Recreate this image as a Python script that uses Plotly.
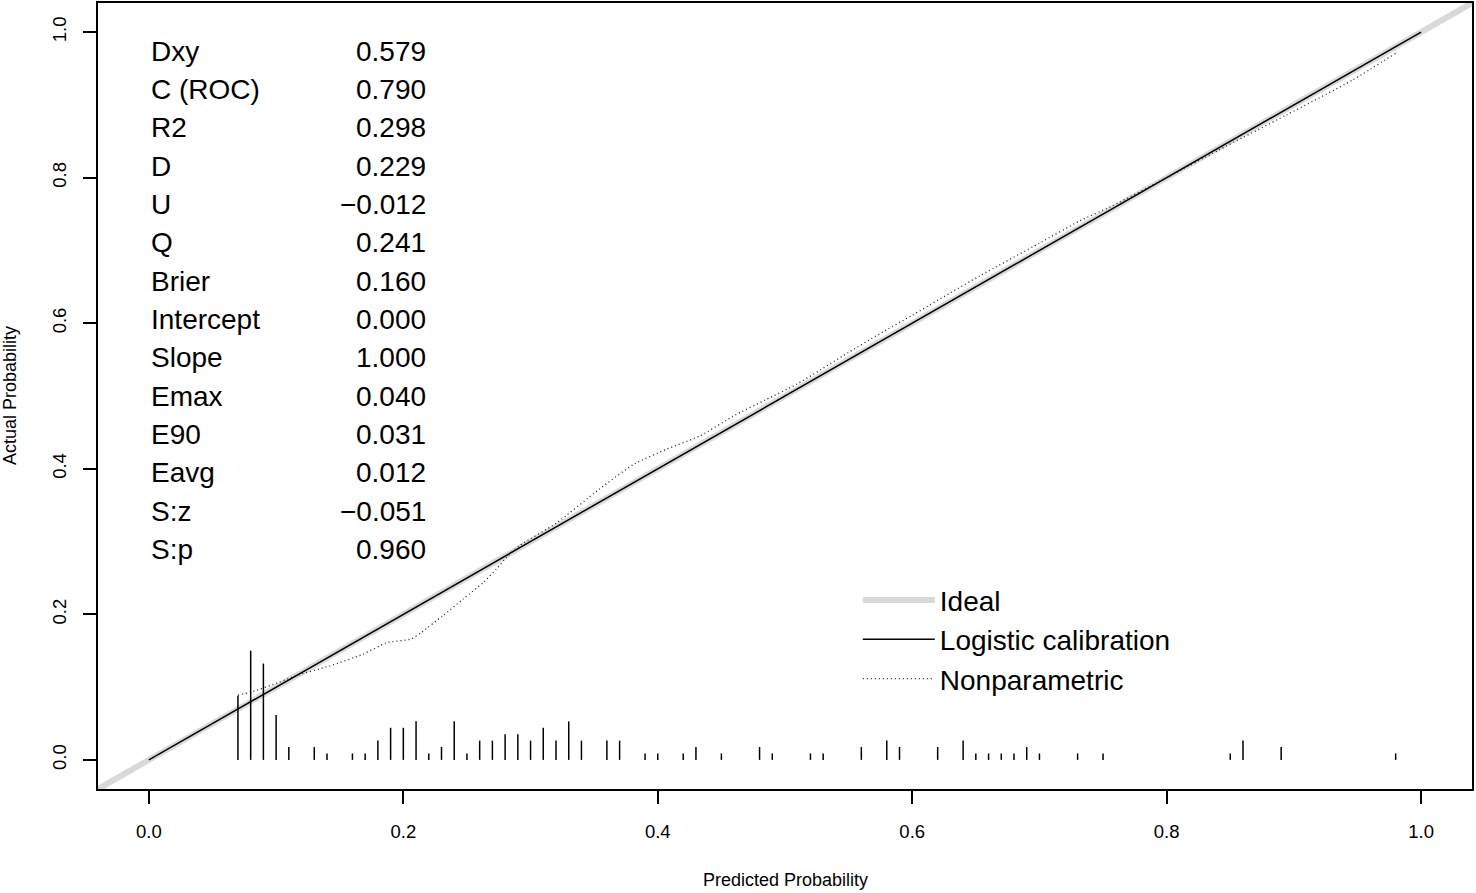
import plotly.graph_objects as go

# summary statistics printed in the top-left corner
stat_names = ['Dxy', 'C (ROC)', 'R2', 'D', 'U', 'Q', 'Brier', 'Intercept',
              'Slope', 'Emax', 'E90', 'Eavg', 'S:z', 'S:p']
stat_values = [0.579, 0.790, 0.298, 0.229, -0.012, 0.241, 0.160, 0.000,
               1.000, 0.040, 0.031, 0.012, -0.051, 0.960]

# ideal and logistic calibration (intercept 0, slope 1)
ideal_x = [-0.05, 1.05]
ideal_y = [-0.05, 1.05]
logistic_x = [0.0, 1.0]
logistic_y = [0.0, 1.0]

# nonparametric (lowess) calibration curve
np_x = [0.07, 0.08, 0.103, 0.116, 0.142, 0.168, 0.187, 0.206, 0.214, 0.231,
        0.247, 0.263, 0.273, 0.281, 0.291, 0.32, 0.354, 0.381, 0.407, 0.433,
        0.459, 0.485, 0.509, 0.55, 0.574, 0.60, 0.653, 0.70, 0.731, 0.757,
        0.80, 0.841, 0.894, 0.946, 0.98]
np_y = [0.089, 0.093, 0.107, 0.116, 0.129, 0.145, 0.161, 0.166, 0.175, 0.198,
        0.221, 0.244, 0.262, 0.278, 0.294, 0.325, 0.372, 0.406, 0.427, 0.445,
        0.472, 0.495, 0.516, 0.56, 0.585, 0.611, 0.665, 0.71, 0.740, 0.761,
        0.80, 0.838, 0.886, 0.934, 0.971]

# distribution of predicted probabilities (spike histogram)
risk_x = [0.07, 0.08, 0.09, 0.10, 0.11, 0.13, 0.14, 0.16, 0.17, 0.18, 0.19,
          0.20, 0.21, 0.22, 0.23, 0.24, 0.25, 0.26, 0.27, 0.28, 0.29, 0.30,
          0.31, 0.32, 0.33, 0.34, 0.36, 0.37, 0.39, 0.40, 0.42, 0.43, 0.45,
          0.48, 0.49, 0.52, 0.53, 0.56, 0.58, 0.59, 0.62, 0.64, 0.65, 0.66,
          0.67, 0.68, 0.69, 0.70, 0.73, 0.75, 0.85, 0.86, 0.89, 0.98]
risk_n = [10, 17, 15, 7, 2, 2, 1, 1, 1, 3, 5,
          5, 6, 1, 2, 6, 1, 3, 3, 4, 4, 3,
          5, 3, 6, 3, 3, 3, 1, 1, 1, 2, 1,
          2, 1, 1, 1, 2, 3, 2, 2, 3, 1, 1,
          1, 1, 2, 1, 1, 1, 1, 3, 2, 1]

tick_vals = [0.0, 0.2, 0.4, 0.6, 0.8, 1.0]
tick_text = ['0.0', '0.2', '0.4', '0.6', '0.8', '1.0']

FONT = 'Liberation Sans, Arial, Helvetica, sans-serif'
spike_frac = 0.15

fig = go.Figure()

fig.add_trace(go.Scatter(x=ideal_x, y=ideal_y, mode='lines', name='Ideal',
                         line=dict(color='#d9d9d9', width=6)))
fig.add_trace(go.Scatter(x=logistic_x, y=logistic_y, mode='lines',
                         name='Logistic calibration',
                         line=dict(color='black', width=1.5)))
fig.add_trace(go.Scatter(x=np_x, y=np_y, mode='lines', name='Nonparametric',
                         line=dict(color='#222222', width=1.3, dash='1px,3px',
                                   shape='spline', smoothing=0.6)))

# spikes: one vertical segment per predicted value
top = max(risk_n)
sx, sy = [], []
for v, n in zip(risk_x, risk_n):
    sx += [v, v, None]
    sy += [0, n / top * spike_frac, None]
fig.add_trace(go.Scatter(x=sx, y=sy, mode='lines', showlegend=False,
                         line=dict(color='black', width=1.5)))

# statistics block
row_top = 0.974
row_step = 0.0527
for i, (name, val) in enumerate(zip(stat_names, stat_values)):
    txt = f'{abs(val):.3f}'
    if val < 0:
        txt = '\u2212' + txt
    y = row_top - i * row_step
    fig.add_annotation(x=0.0, y=y, xref='x', yref='y', text=name,
                       xanchor='left', yanchor='middle', showarrow=False,
                       font=dict(size=28, color='black', family=FONT))
    fig.add_annotation(x=0.219, y=y, xref='x', yref='y', text=txt,
                       xanchor='right', yanchor='middle', showarrow=False,
                       font=dict(size=28, color='black', family=FONT))

# axis titles
fig.add_annotation(x=0.5, y=0, xref='paper', yref='paper', yshift=-91,
                   text='Predicted Probability', showarrow=False,
                   xanchor='center', yanchor='middle',
                   font=dict(size=18, color='black', family=FONT))
fig.add_annotation(x=0, y=0.5, xref='paper', yref='paper', xshift=-88,
                   text='Actual Probability', showarrow=False, textangle=-90,
                   xanchor='center', yanchor='middle',
                   font=dict(size=18, color='black', family=FONT))

axis_common = dict(
    showgrid=False, zeroline=False, showline=True, mirror=True,
    linecolor='black', linewidth=1.5, automargin=False,
    ticks='outside', ticklen=13, tickwidth=1.5, tickcolor='black',
    tickvals=tick_vals, ticktext=tick_text,
    tickfont=dict(size=18.5, color='black', family=FONT),
)

fig.update_layout(
    width=1476, height=893,
    margin=dict(l=98, r=4, t=3, b=104),
    paper_bgcolor='white', plot_bgcolor='white',
    xaxis=dict(range=[-0.04, 1.04], ticklabelstandoff=12, **axis_common),
    yaxis=dict(range=[-0.04, 1.04], tickangle=-90, ticklabelstandoff=10,
               **axis_common),
    legend=dict(x=0.553, y=0.272, xref='paper', yref='paper',
                xanchor='left', yanchor='top',
                bgcolor='rgba(0,0,0,0)', itemwidth=72,
                font=dict(size=28, color='black', family=FONT)),
    font=dict(family=FONT, color='black'),
)

# drop the page's default body margin so the figure sits at the window origin
fig.write_html('out.html', config={'displayModeBar': False},
               post_script="document.body.style.margin='0';")
